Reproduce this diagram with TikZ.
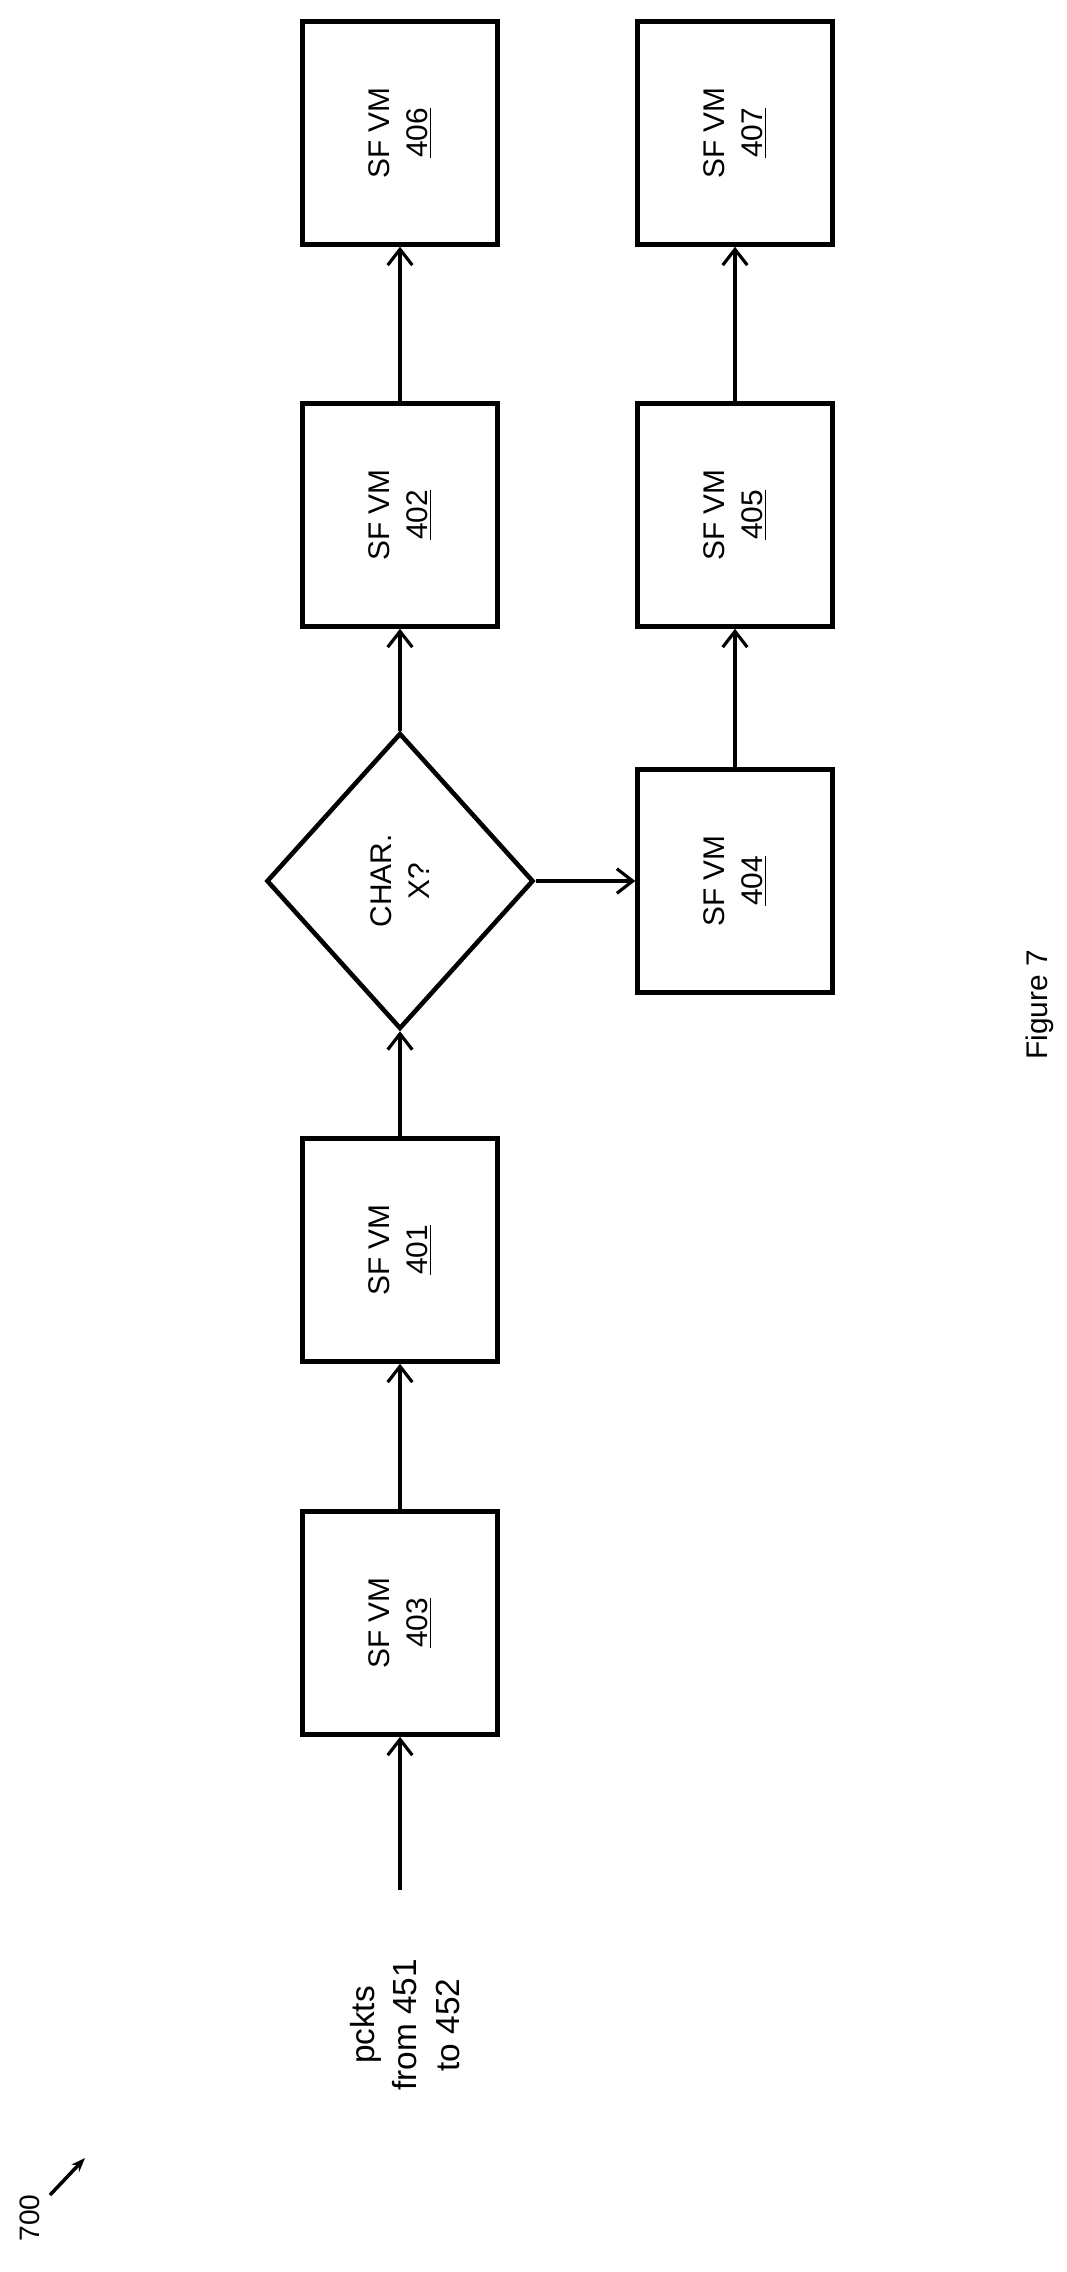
\documentclass[tikz,border=0pt]{standalone}
\usepackage{fontspec}
\setmainfont{Liberation Sans}
\usetikzlibrary{shapes.geometric,arrows.meta}
\tikzset{
  vm/.style={draw,line width=2.6pt,rotate=90,minimum width=4.46cm,minimum height=3.9cm,
    align=center,font=\fontsize{17}{22}\selectfont},
  choice/.style={draw,diamond,line width=2.6pt,rotate=90,minimum width=5.92cm,minimum height=5.34cm,
    inner sep=0pt,align=center,font=\fontsize{17}{22}\selectfont},
  flow/.style={line width=1.8pt,-{Straight Barb[length=9pt,width=14pt,line width=1.8pt]}}
}
\begin{document}
\begin{tikzpicture}[x=0.02cm,y=-0.02cm]
\useasboundingbox (0,0) rectangle (1066,2272);
\node [vm] (v403) at (400,1623) {SF VM\\\underline{403}};
\node [vm] (v401) at (400,1250) {SF VM\\\underline{401}};
\node [choice] (char) at (400,881) {CHAR.\\X?};
\node [vm] (v402) at (400,515) {SF VM\\\underline{402}};
\node [vm] (v406) at (400,133) {SF VM\\\underline{406}};
\node [vm] (v404) at (735,881) {SF VM\\\underline{404}};
\node [vm] (v405) at (735,515) {SF VM\\\underline{405}};
\node [vm] (v407) at (735,133) {SF VM\\\underline{407}};
\coordinate (in) at (400,1890);
\node [rotate=90,align=center,font=\fontsize{19}{24}\selectfont] (pckts) at (405,2025) {pckts\\from 451\\to 452};
\node [rotate=90,font=\fontsize{17}{20}\selectfont] (fig) at (1040,1005) {Figure 7};
\node [rotate=90,font=\fontsize{16}{20}\selectfont] (lbl) at (30,2218) {700};
\coordinate (lbltip) at (85,2158);
\draw [flow] (in) -- (v403);
\draw [flow] (v403) -- (v401);
\draw [flow] (v401) -- (char);
\draw [flow] (char) -- (v402);
\draw [flow] (v402) -- (v406);
\draw [flow] (char) -- (v404);
\draw [flow] (v404) -- (v405);
\draw [flow] (v405) -- (v407);
\draw [line width=2pt,-{Stealth[length=8pt]}] (50,2195) -- (lbltip);
\end{tikzpicture}
\end{document}
